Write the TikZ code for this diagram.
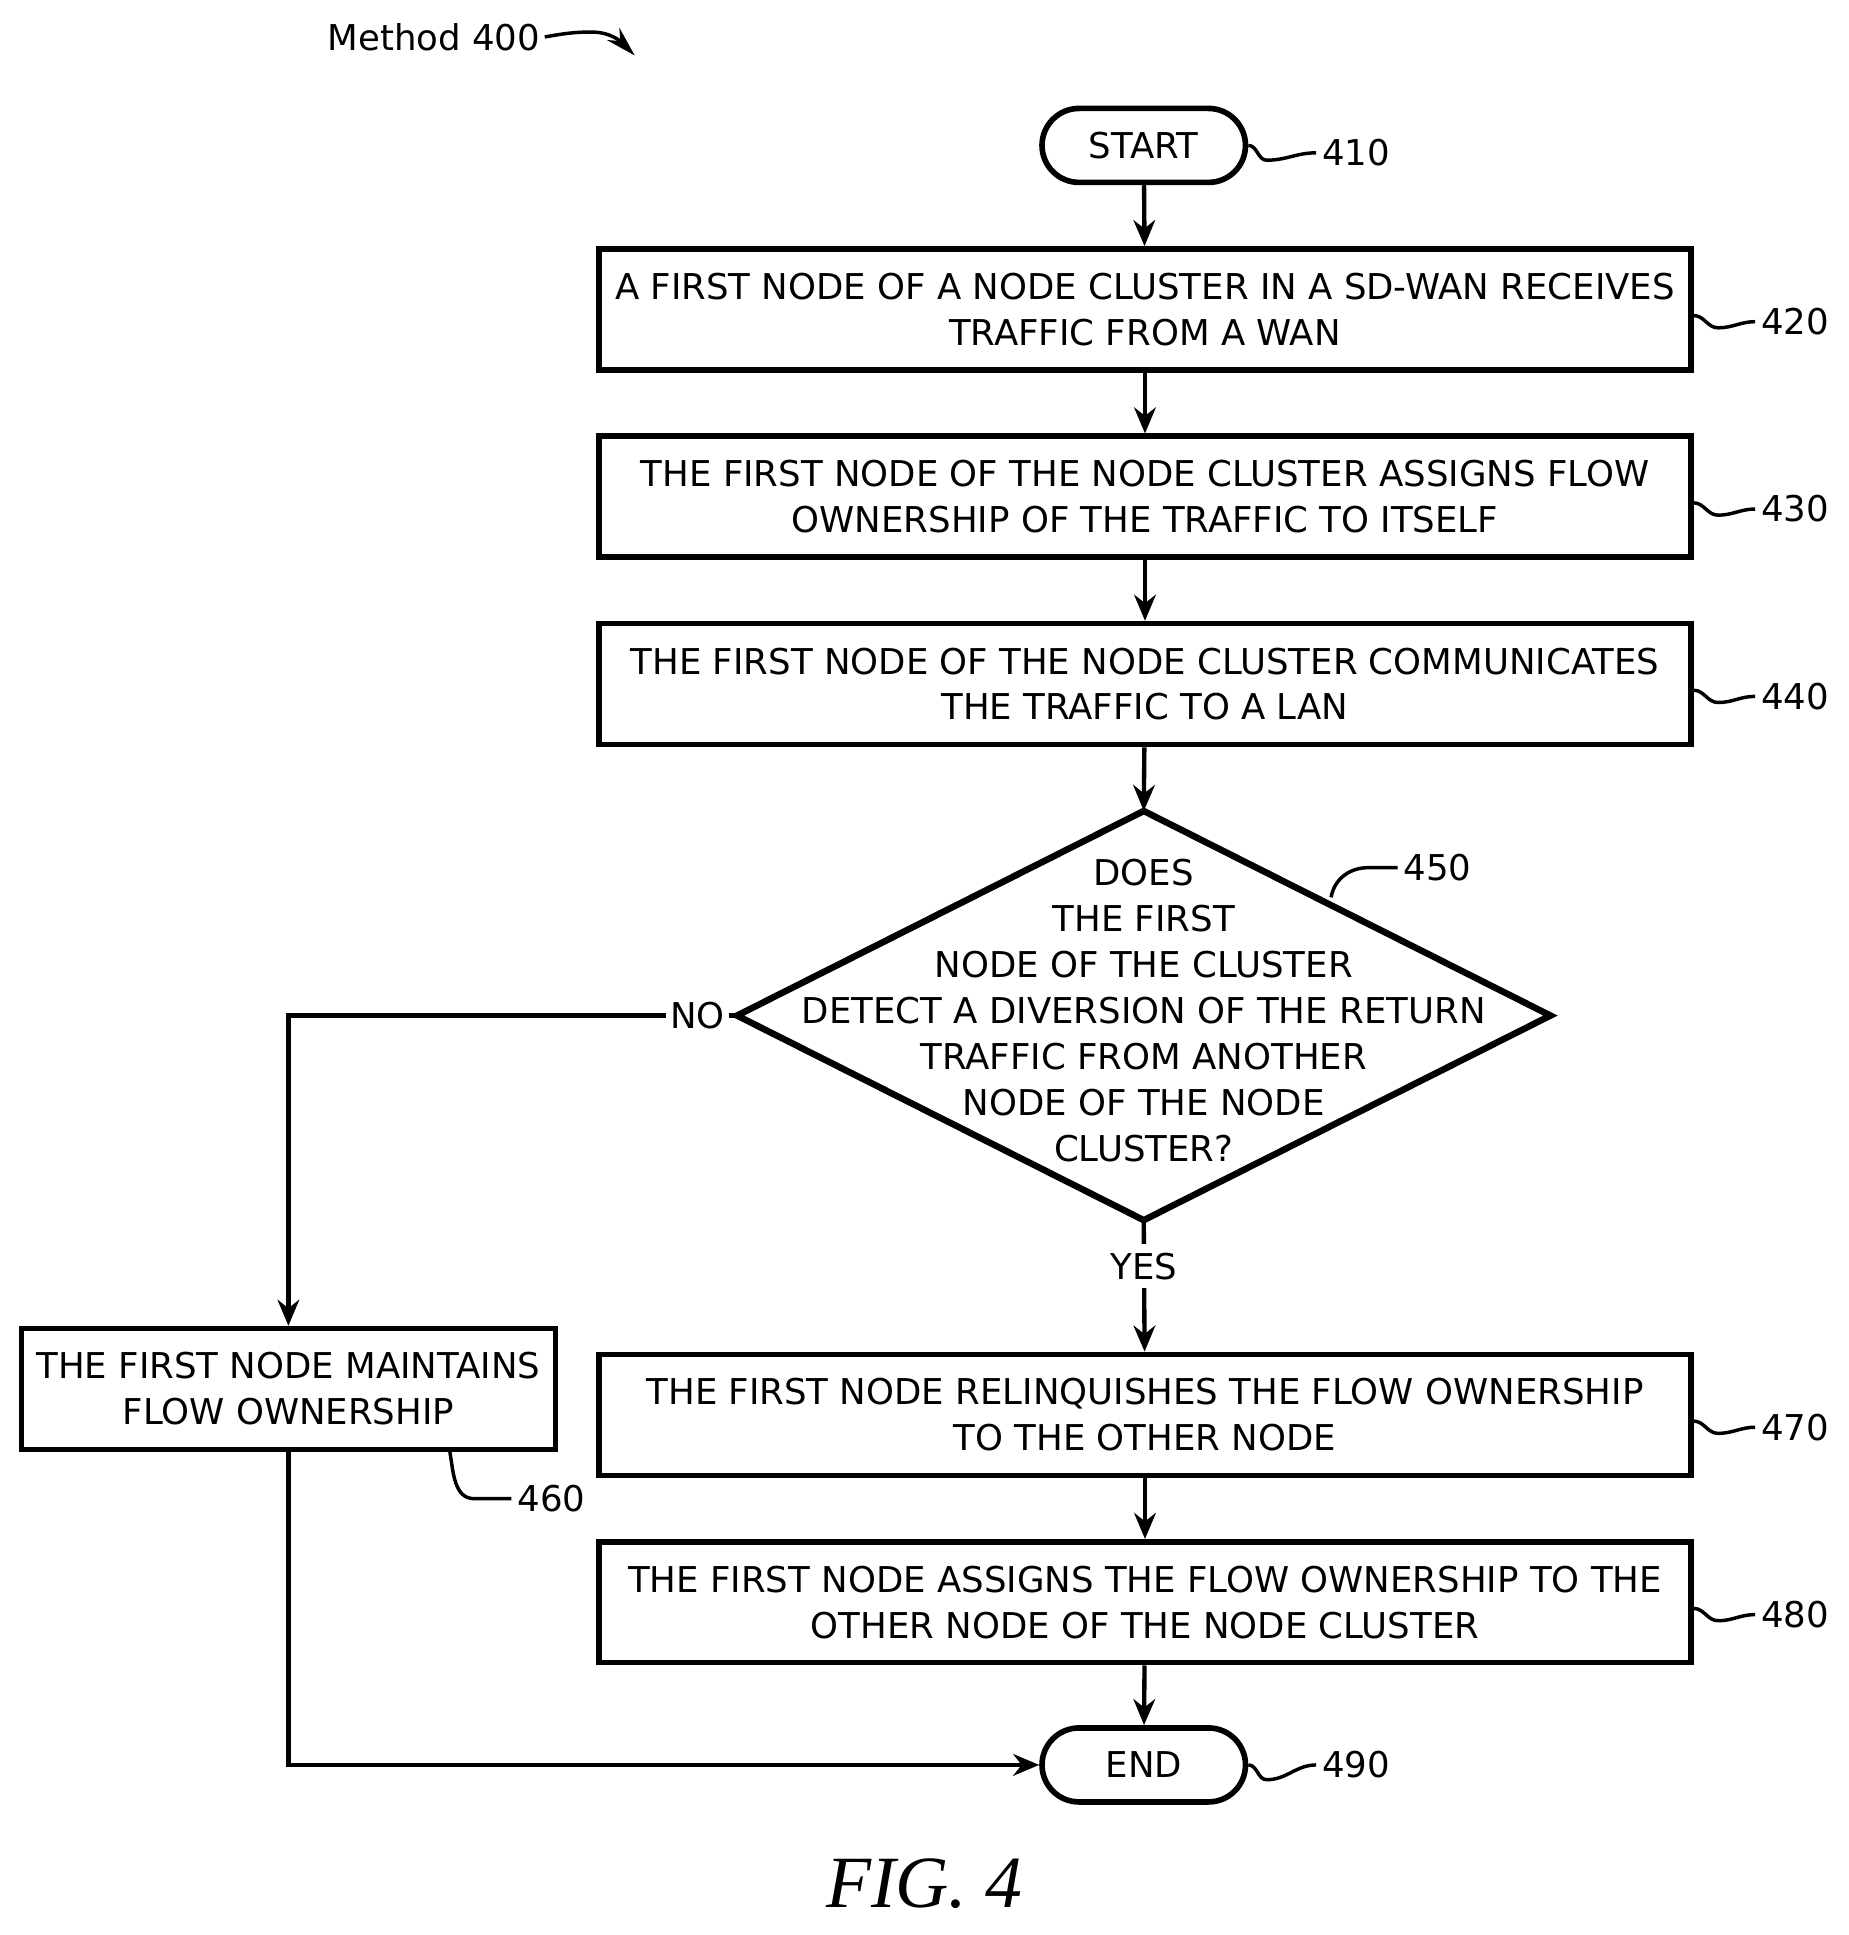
\documentclass[tikz,border=0pt]{standalone}
\usepackage{fontspec}
\setmainfont{DejaVu Sans}
\newfontfamily\figfont{Liberation Serif}
\usetikzlibrary{arrows.meta}
\begin{document}
\begin{tikzpicture}[x=0.01cm,y=-0.01cm,
  box/.style={draw,line width=1.3pt,minimum width=8.85cm,minimum height=0.98cm,align=center,font=\fontsize{8.2}{10.6}\selectfont},
  term/.style={draw,line width=1.3pt,rounded corners=0.3cm,minimum width=1.65cm,minimum height=0.6cm,font=\fontsize{8.2}{10}\selectfont},
  flow/.style={line width=1pt,-{Stealth[length=6pt,width=5pt]}},
  lead/.style={line width=0.8pt},
  lbl/.style={font=\fontsize{8.2}{10}\selectfont,anchor=west,inner sep=1pt}]
\useasboundingbox (0,0) rectangle (1500,1570);

%nodes
\node[term] (start) at (928,118) {START};
\node[box] (b420) at (929,251) {A FIRST NODE OF A NODE CLUSTER IN A SD-WAN RECEIVES\\TRAFFIC FROM A WAN};
\node[box] (b430) at (929,403) {THE FIRST NODE OF THE NODE CLUSTER ASSIGNS FLOW\\OWNERSHIP OF THE TRAFFIC TO ITSELF};
\node[box] (b440) at (929,555) {THE FIRST NODE OF THE NODE CLUSTER COMMUNICATES\\THE TRAFFIC TO A LAN};
\node[align=center,font=\fontsize{8.2}{10.6}\selectfont] (d450) at (928,820) {DOES\\THE FIRST\\NODE OF THE CLUSTER\\DETECT A DIVERSION OF THE RETURN\\TRAFFIC FROM ANOTHER\\NODE OF THE NODE\\CLUSTER?};
\coordinate (dtop) at (928,658);
\coordinate (dbot) at (928,990);
\coordinate (dleft) at (598,824);
\coordinate (dright) at (1258,824);
\draw[line width=1.5pt] (dtop) -- (dright) -- (dbot) -- (dleft) -- cycle;
\node[box,minimum width=4.33cm] (b460) at (234,1127) {THE FIRST NODE MAINTAINS\\FLOW OWNERSHIP};
\node[box] (b470) at (929,1148) {THE FIRST NODE RELINQUISHES THE FLOW OWNERSHIP\\TO THE OTHER NODE};
\node[box] (b480) at (929,1300) {THE FIRST NODE ASSIGNS THE FLOW OWNERSHIP TO THE\\OTHER NODE OF THE NODE CLUSTER};
\node[term] (end) at (928,1432) {END};

%connectors
\draw[flow] (start) -- (b420);
\draw[flow] (b420) -- (b430);
\draw[flow] (b430) -- (b440);
\draw[flow] (b440) -- (dtop);
\draw[line width=1pt] (dleft) -- node[fill=white,inner sep=1pt,font=\fontsize{8.2}{10}\selectfont] (no) {NO} (534,824);
\draw[flow] (534,824) -| (b460);
\draw[flow] (dbot) -- node[fill=white,inner sep=2pt,pos=0.35,font=\fontsize{8.2}{10}\selectfont] (yes) {YES} (b470);
\draw[flow] (b470) -- (b480);
\draw[flow] (b480) -- (end);
\draw[flow] (b460) |- (end);

%reference numerals
\draw[lead] (start.east) to[out=0,in=180] ++(15,12) to[out=0,in=180] ++(40,-6) node[lbl] {410};
\foreach \b/\t in {b420/420,b430/430,b440/440,b470/470,b480/480}
  \draw[lead] (\b.east) ++(0,5) to[out=0,in=180] ++(20,10) to[out=0,in=180] ++(30,-5) node[lbl] {\t};
\draw[lead] (end.east) to[out=0,in=180] ++(15,12) to[out=0,in=180] ++(40,-12) node[lbl] {490};
\draw[lead] (1080,728) to[out=80,in=180] (1110,704) -- (1134,704) node[lbl] {450};
\draw[lead] (365,1178) to[out=-80,in=180] (385,1216) -- (415,1216) node[lbl] {460};

\node[font=\fontsize{8.2}{10}\selectfont] (title) at (352,30) {Method 400};
\draw[lead,-{Stealth[length=7pt,width=4pt]}] (442,30) to[out=10,in=180] (480,26) to[out=0,in=135] (515,45);
\node[font=\figfont\itshape\fontsize{17}{20}\selectfont] (fig) at (750,1528) {FIG. 4};
\end{tikzpicture}
\end{document}
